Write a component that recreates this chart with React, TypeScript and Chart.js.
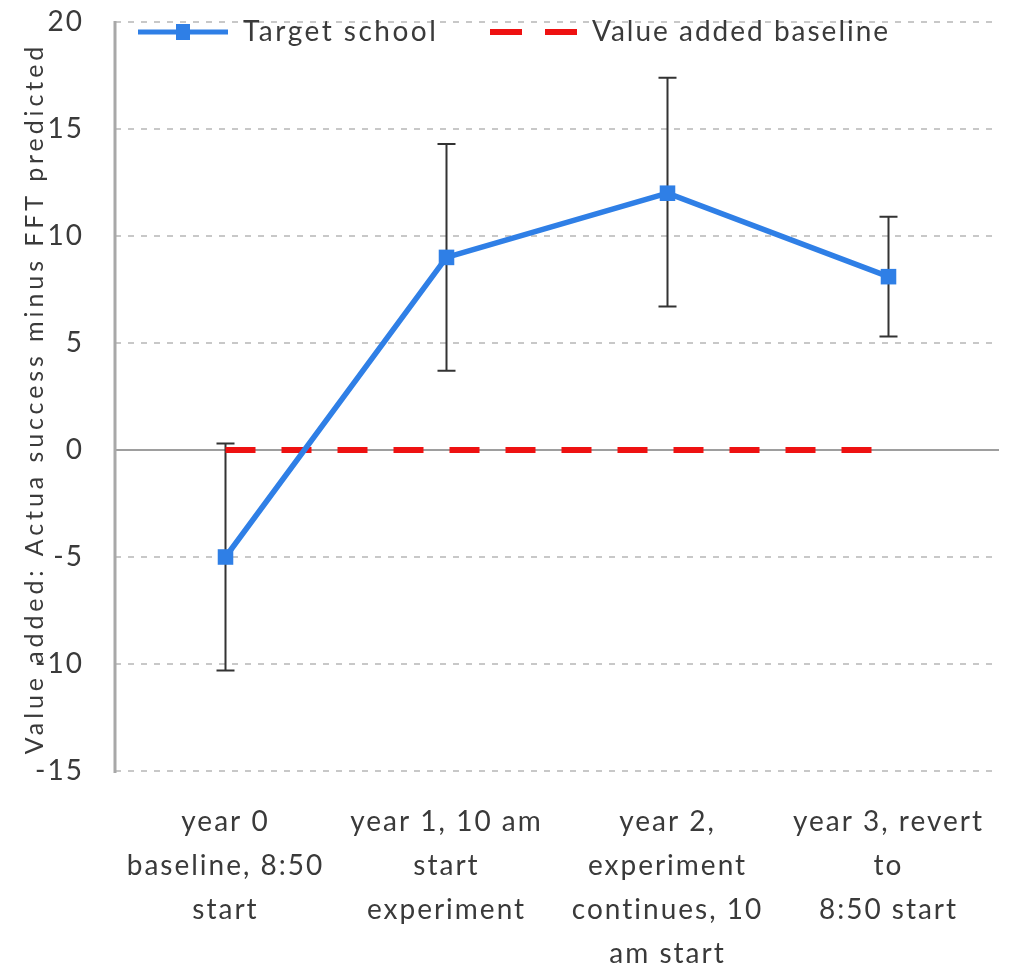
import React, { useEffect, useRef } from "react";
import { Chart, registerables } from "chart.js";

Chart.register(...registerables);

const categories: string[][] = [
  ["year 0", "baseline, 8:50", "start"],
  ["year 1, 10 am", "start", "experiment"],
  ["year 2,", "experiment", "continues, 10", "am start"],
  ["year 3, revert", "to", "8:50 start"],
];
const targetSchool: number[] = [-5, 9, 12, 8.1];
const errorLow: number[] = [-10.3, 3.7, 6.7, 5.3];
const errorHigh: number[] = [0.3, 14.3, 17.4, 10.9];
const baseline: number[] = [0, 0, 0, 0];
const yTicks: number[] = [-15, -10, -5, 0, 5, 10, 15, 20];
const yTitle = "Value added: Actua success minus FFT predicted";

const FONT = "Lato, 'Open Sans', sans-serif";
const TEXT = "#3a3a3a";
const BLUE = "#2f7fe6";
const RED = "#ee1111";

// Tick labels are drawn slightly letter-spaced
const spacingPlugin = {
  id: "tickSpacing",
  beforeDraw(chart: any) {
    (chart.ctx as any).letterSpacing = "2px";
  },
  afterDatasetsDraw(chart: any) {
    (chart.ctx as any).letterSpacing = "0px";
  },
};

// Dashed gridlines, solid zero line and the y axis line
const gridPlugin = {
  id: "gridLines",
  beforeDatasetsDraw(chart: any) {
    const { ctx, chartArea, scales } = chart;
    const y = scales.y;
    ctx.save();
    yTicks.forEach((v) => {
      const py = y.getPixelForValue(v);
      ctx.beginPath();
      if (v === 0) {
        ctx.setLineDash([]);
        ctx.strokeStyle = "#9e9e9e";
        ctx.lineWidth = 2;
      } else {
        ctx.setLineDash([6, 7]);
        ctx.strokeStyle = "#c8c8c8";
        ctx.lineWidth = 2;
      }
      ctx.moveTo(chartArea.left, py);
      ctx.lineTo(chartArea.right, py);
      ctx.stroke();
    });
    ctx.setLineDash([]);
    ctx.strokeStyle = "#a8a8a8";
    ctx.lineWidth = 3;
    ctx.beginPath();
    ctx.moveTo(chartArea.left, chartArea.top - 1);
    ctx.lineTo(chartArea.left, chartArea.bottom + 2);
    ctx.stroke();
    ctx.restore();
  },
};

// Vertical error bars with caps for the target school series
const errorBarPlugin = {
  id: "errorBars",
  beforeDatasetsDraw(chart: any) {
    const { ctx, scales } = chart;
    const x = scales.x;
    const y = scales.y;
    ctx.save();
    ctx.strokeStyle = "#333333";
    ctx.lineWidth = 2;
    targetSchool.forEach((_, i) => {
      const px = x.getPixelForValue(i);
      const top = y.getPixelForValue(errorHigh[i]);
      const bot = y.getPixelForValue(errorLow[i]);
      ctx.beginPath();
      ctx.moveTo(px, top);
      ctx.lineTo(px, bot);
      ctx.moveTo(px - 9, top);
      ctx.lineTo(px + 9, top);
      ctx.moveTo(px - 9, bot);
      ctx.lineTo(px + 9, bot);
      ctx.stroke();
    });
    ctx.restore();
  },
};

// Rotated axis title and legend drawn over the plot
const labelsPlugin = {
  id: "labels",
  afterDraw(chart: any) {
    const { ctx, chartArea } = chart;
    ctx.save();
    // y axis title
    ctx.translate(43, (chartArea.top + chartArea.bottom) / 2 + 2);
    ctx.rotate(-Math.PI / 2);
    ctx.font = `25px ${FONT}`;
    (ctx as any).letterSpacing = "3.9px";
    ctx.fillStyle = TEXT;
    ctx.textAlign = "center";
    ctx.textBaseline = "alphabetic";
    ctx.fillText(yTitle, 0, 0);
    ctx.restore();

    // legend
    const ds = chart.data.datasets;
    const ly = 32;
    ctx.save();
    ctx.lineCap = "butt";
    ctx.strokeStyle = ds[0].borderColor;
    ctx.lineWidth = 5;
    ctx.beginPath();
    ctx.moveTo(138, ly);
    ctx.lineTo(228, ly);
    ctx.stroke();
    ctx.fillStyle = ds[0].pointBackgroundColor;
    ctx.fillRect(183 - 7, ly - 8, 14, 16);

    ctx.strokeStyle = ds[1].borderColor;
    ctx.lineWidth = 6;
    ctx.setLineDash([32, 23]);
    ctx.beginPath();
    ctx.moveTo(490, ly);
    ctx.lineTo(578, ly);
    ctx.stroke();
    ctx.setLineDash([]);

    ctx.font = `28px ${FONT}`;
    ctx.fillStyle = TEXT;
    ctx.textAlign = "left";
    ctx.textBaseline = "middle";
    (ctx as any).letterSpacing = "2.5px";
    ctx.fillText(ds[0].label, 243, ly);
    (ctx as any).letterSpacing = "2px";
    ctx.fillText(ds[1].label, 592, ly);
    ctx.restore();
  },
};

export default function App() {
  const canvasRef = useRef<HTMLCanvasElement | null>(null);

  useEffect(() => {
    if (!canvasRef.current) return;
    const chart = new Chart(canvasRef.current, {
      type: "line",
      data: {
        labels: categories as any,
        datasets: [
          {
            label: "Target school",
            data: targetSchool,
            borderColor: BLUE,
            backgroundColor: BLUE,
            pointBackgroundColor: BLUE,
            pointBorderColor: BLUE,
            borderWidth: 5.5,
            pointStyle: "rect",
            pointRadius: 11,
            pointBorderWidth: 0,
            tension: 0,
          } as any,
          {
            label: "Value added baseline",
            data: baseline,
            borderColor: RED,
            backgroundColor: RED,
            borderWidth: 6,
            borderDash: [30, 26],
            pointRadius: 0,
            tension: 0,
          },
        ],
      },
      options: {
        animation: false,
        responsive: true,
        maintainAspectRatio: false,
        layout: { padding: { top: 22, right: 18, bottom: 0, left: 0 } },
        plugins: {
          legend: { display: false },
          tooltip: { enabled: false },
        },
        scales: {
          x: {
            offset: true,
            grid: { display: false, drawTicks: false },
            border: { display: false },
            ticks: {
              color: TEXT,
              font: { family: FONT, size: 28, lineHeight: 1.57 },
              padding: 29,
              maxRotation: 0,
              autoSkip: false,
            },
            afterFit(scale: any) {
              scale.height = 197;
            },
          },
          y: {
            min: -15,
            max: 20,
            grid: { display: false, drawTicks: false },
            border: { display: false },
            ticks: {
              stepSize: 5,
              color: TEXT,
              font: { family: FONT, size: 28 },
              padding: 31,
            },
            afterFit(scale: any) {
              scale.width = 115;
              scale.paddingTop = 0;
              scale.paddingBottom = 0;
            },
          },
        },
      },
      plugins: [spacingPlugin, gridPlugin, errorBarPlugin, labelsPlugin],
    });
    return () => chart.destroy();
  }, []);

  return (
    <div
      style={{
        position: "absolute",
        left: 0,
        top: 0,
        width: 1017,
        height: 968,
        background: "#fff",
      }}
    >
      <canvas ref={canvasRef} />
    </div>
  );
}
